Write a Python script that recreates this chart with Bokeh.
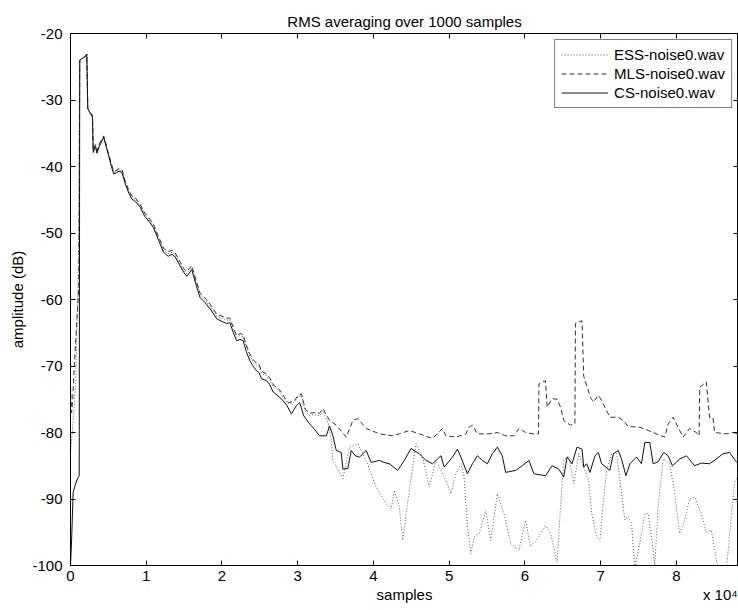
from bokeh.plotting import figure
from bokeh.models import Range1d, LinearAxis, FixedTicker, Legend, LegendItem
from bokeh.embed import file_html
from bokeh.resources import INLINE

title_text = "RMS averaging over 1000 samples"
x_axis_text = "samples"
x_scale_text = "x 10\u2074"
y_axis_text = "amplitude (dB)"
series_names = ["ESS-noise0.wav", "MLS-noise0.wav", "CS-noise0.wav"]
x_tick_values = [0, 10000, 20000, 30000, 40000, 50000, 60000, 70000, 80000]
x_tick_labels = ["0", "1", "2", "3", "4", "5", "6", "7", "8"]
y_tick_values = [-100, -90, -80, -70, -60, -50, -40, -30, -20]
y_tick_labels = ["-100", "-90", "-80", "-70", "-60", "-50", "-40", "-30", "-20"]

cs_points = [
    (0, -100), (150, -96), (350, -89), (600, -88), (900, -87), (1150, -86.5), (1220, -24),
    (1500, -23.8), (2000, -23.4), (2150, -23.1), (2280, -31.3), (2600, -32), (2900, -32.5),
    (3000, -37.9), (3300, -37), (3500, -38), (3800, -37), (4000, -36.5), (4380, -35.6),
    (4700, -37), (5000, -38.2), (5400, -40), (5700, -41.1), (6000, -41), (6400, -40.7),
    (6800, -40.9), (7200, -42.5), (7700, -44), (8100, -44.9), (8600, -45.3), (9200, -46.1),
    (9800, -47.5), (10400, -48.3), (10960, -49.2), (11600, -51), (12280, -52.9), (12900, -53.5),
    (13400, -53.2), (13820, -53.6), (14400, -54.8), (15000, -56), (15350, -56.5), (16010, -55.5),
    (16500, -57.5), (17100, -59.7), (17800, -60.5), (18500, -61.5), (19300, -62.9), (20000, -63.3),
    (20600, -63.6), (21050, -63.5), (21500, -65), (21930, -66.2), (22400, -66), (22800, -66.2),
    (23200, -67.8), (23680, -69.2), (24100, -70), (24560, -70.7), (24900, -71), (25220, -71.9),
    (25880, -72.2), (26300, -72.8), (26750, -73.9), (27400, -74.5), (28070, -75.2), (28600, -76),
    (29170, -77.2), (29800, -76), (30260, -75.5), (30800, -77.5), (31580, -78.7), (32200, -79.5),
    (32890, -80.5), (33780, -80.5), (34210, -79), (34650, -80.5), (35090, -82.7), (35750, -83),
    (35960, -85.5), (36620, -85.4), (37070, -82.7), (37600, -83.5), (38160, -83.7), (39040, -82.7),
    (39700, -84.5), (40790, -84.2), (41400, -84.5), (42110, -84.7), (43200, -85.7), (44080, -84.2),
    (44960, -82.4), (46050, -83.2), (46930, -84.2), (47800, -84.7), (48910, -83.5), (49340, -85.2),
    (50430, -83.7), (51090, -82.5), (51540, -83.7), (52410, -86.2), (53070, -84.7), (53720, -83.5),
    (54380, -84.2), (55040, -84.7), (55700, -83.2), (56360, -82.2), (57010, -83.5), (57460, -86),
    (58780, -85.7), (59650, -85), (60530, -84.2), (61180, -86.2), (62720, -86.5), (63590, -85),
    (64470, -85.5), (65130, -86.7), (65570, -83.7), (66220, -84.7), (66880, -82.2), (67540, -82.5),
    (67760, -85.2), (68160, -84.7), (68590, -86), (69250, -83.5), (69700, -83), (70130, -84.7),
    (71220, -85.7), (71670, -83.2), (72330, -82.7), (72760, -84), (73330, -86.5), (73860, -84.7),
    (74740, -83.7), (75390, -84.7), (75830, -81.5), (76490, -81.5), (76930, -84.7), (77590, -84.4),
    (78330, -83), (78910, -83.5), (79470, -85), (80430, -84), (81320, -83.5), (82410, -85),
    (83290, -84.6), (84380, -84.7), (85260, -84), (86140, -83.2), (87010, -83), (87890, -84.4),
    (88200, -84.5),
]

mls_points = [
    (0, -73), (150, -77), (300, -75), (500, -70), (700, -66), (900, -62), (1100, -58), (1220, -24),
    (1500, -23.8), (2000, -23.4), (2150, -23.1), (2280, -31.3), (2600, -31.8), (2900, -32.3),
    (3000, -37.5), (3300, -36.7), (3500, -37.6), (3800, -36.6), (4000, -36.2), (4380, -35.4),
    (4700, -36.6), (5000, -38), (5400, -39.6), (5700, -40.7), (6000, -40.6), (6400, -40.3),
    (6800, -40.5), (7200, -42.1), (7700, -43.6), (8100, -44.4), (8600, -44.8), (9200, -45.7),
    (9800, -47), (10400, -47.8), (10960, -48.7), (11600, -50.5), (12280, -52.3), (12900, -52.8),
    (13400, -52.6), (13820, -53), (14400, -54.2), (15000, -55.4), (15350, -55.8), (16010, -54.9),
    (16500, -56.8), (17100, -59), (17800, -59.8), (18500, -60.8), (19300, -62.2), (20000, -62.5),
    (20600, -62.8), (21050, -62.8), (21500, -64.2), (21930, -65.4), (22400, -65.1), (22800, -65.3),
    (23200, -66.8), (23680, -68.2), (24100, -69), (24560, -69.6), (24900, -69.8), (25220, -70.8),
    (25880, -71.2), (26300, -71.8), (26750, -72.8), (27630, -73.6), (28300, -74.8), (28800, -75.5),
    (29500, -75.3), (30000, -74.5), (30490, -74.2), (31000, -76.5), (31580, -77.1), (32200, -77),
    (32890, -77.1), (33330, -76.4), (34210, -78.2), (35090, -78.9), (36410, -80.7), (37280, -78.2),
    (37930, -77.9), (39040, -79.4), (40790, -80.2), (42540, -80.5), (43420, -80.2), (44740, -79.7),
    (46050, -80.2), (47800, -80.9), (49120, -79.4), (49570, -80.5), (50880, -80.7), (52200, -80.2),
    (52630, -79.2), (53070, -78.9), (53720, -80.2), (55260, -80.2), (56360, -80), (57460, -80.5),
    (58550, -80.5), (59210, -79.4), (60090, -80), (60960, -80.2), (61800, -80.2), (61850, -72.7),
    (62720, -72.2), (62930, -76.2), (63590, -74.9), (64250, -75), (64700, -76.2), (65130, -78.2),
    (66010, -78.9), (66450, -78.7), (66600, -78.7), (66670, -63.6), (67540, -63.2), (67760, -71.5),
    (68640, -74.7), (69040, -75.4), (69700, -74.4), (70130, -75.2), (71220, -77.7), (72330, -77.7),
    (72990, -78.2), (73640, -79.1), (75170, -79.2), (76280, -79.7), (77370, -80.2), (78460, -80.7),
    (78910, -78.7), (79570, -77.7), (80220, -79.2), (80880, -80.7), (81750, -79.4), (82630, -80),
    (83000, -80.5), (83070, -73.2), (83950, -72.4), (84380, -77.7), (84830, -77.7), (85040, -80),
    (86580, -80.2), (87460, -80), (88200, -80.2),
]

ess_points = [
    (0, -83), (150, -81), (300, -79), (500, -76), (700, -72), (900, -62), (1100, -50), (1220, -24),
    (1500, -23.8), (2000, -23.4), (2150, -23.1), (2280, -31.3), (2600, -32.1), (2900, -32.6),
    (3000, -37.7), (3300, -36.9), (3500, -37.8), (3800, -36.8), (4000, -36.3), (4380, -35.5),
    (4700, -36.8), (5000, -38.1), (5400, -39.8), (5700, -40.9), (6000, -40.8), (6400, -40.5),
    (6800, -40.7), (7200, -42.3), (7700, -43.8), (8100, -44.6), (8600, -45), (9200, -45.9),
    (9800, -47.2), (10400, -48), (10960, -48.9), (11600, -50.7), (12280, -52.6), (12900, -53.1),
    (13400, -52.9), (13820, -53.3), (14400, -54.5), (15000, -55.7), (15350, -56.1), (16010, -55.2),
    (16500, -57.1), (17100, -59.3), (17800, -60.1), (18500, -61.1), (19300, -62.5), (20000, -62.8),
    (20600, -63.1), (21050, -63.1), (21500, -64.5), (21930, -65.7), (22400, -65.4), (22800, -65.6),
    (23200, -67.1), (23680, -68.5), (24100, -69.3), (24560, -69.9), (24900, -70.1), (25220, -71.1),
    (25880, -71.5), (26300, -72.1), (26750, -73), (27630, -73.9), (28300, -75), (28800, -75.7),
    (29500, -75.5), (30000, -74.7), (30490, -74.4), (31000, -76.8), (31580, -77.4), (32200, -77.3),
    (32890, -77.5), (33330, -76.8), (34000, -78.5), (34430, -81.2), (34650, -84.2), (35960, -86.9),
    (36840, -82.2), (37930, -81.7), (39040, -84.2), (40360, -88.2), (41670, -90.7), (42330, -91.5),
    (42760, -88.7), (43420, -91.2), (43860, -96.2), (44740, -88.7), (45620, -81.7), (46490, -83.7),
    (47370, -88.2), (48250, -84.2), (48680, -85.2), (49570, -87.2), (50220, -89.2), (50880, -86.2),
    (51540, -84.7), (51970, -86.7), (52410, -94.2), (52860, -98.2), (53290, -95.7), (53950, -95.2),
    (54830, -91.7), (55490, -96.2), (56360, -89.2), (57240, -92.2), (58120, -96.7), (59210, -97.7),
    (60090, -93.2), (60750, -97.2), (61840, -95.7), (62720, -94), (63380, -95.2), (64250, -99.5),
    (64700, -91.2), (65130, -84.2), (65790, -83.5), (66450, -87.7), (67110, -83.2), (67760, -85.2),
    (68420, -87.2), (68820, -92.2), (69470, -95.7), (69910, -96.2), (70360, -90.2), (70790, -85.7),
    (71450, -83.2), (72110, -83.2), (72760, -89.2), (73200, -93.2), (73640, -92.7), (74080, -93.7),
    (74510, -100.5), (75170, -96.7), (75830, -92.2), (76280, -92.2), (76930, -97.7), (77140, -100),
    (77590, -91.2), (78250, -84), (79120, -84.7), (79780, -89.2), (80430, -95.2), (81090, -93.2),
    (81750, -90), (82410, -89.7), (83290, -92.2), (83950, -95), (84610, -94.7), (85490, -100.5),
    (86580, -101), (87240, -92.7), (87670, -87.5), (88200, -86.5),
]

# positions (data units) for the two texts under the tick labels
x_text_positions = [44100, 85800]

FONT = "Liberation Sans"

p = figure(width=738, height=610, output_backend="svg", toolbar_location=None,
           x_range=Range1d(0, 88200), y_range=Range1d(-100, -20),
           title=title_text,
           min_border_left=70, min_border_right=0, min_border_top=33, min_border_bottom=45)

p.title.align = "center"
p.title.text_font = FONT
p.title.text_font_size = "15px"
p.title.text_font_style = "normal"
p.title.text_color = "black"
p.title.standoff = 7

p.background_fill_color = "white"
p.border_fill_color = "white"
p.outline_line_color = "black"
p.outline_line_width = 1
p.grid.visible = False

ess_x, ess_y = zip(*ess_points)
mls_x, mls_y = zip(*mls_points)
cs_x, cs_y = zip(*cs_points)

r_ess = p.line(list(ess_x), list(ess_y), line_color="#555555", line_dash="1 2", line_width=1)
r_mls = p.line(list(mls_x), list(mls_y), line_color="#333333", line_dash="5 3", line_width=1)
r_cs = p.line(list(cs_x), list(cs_y), line_color="#111111", line_width=1)


def style_axis(ax):
    ax.major_tick_in = 5
    ax.major_tick_out = 0
    ax.minor_tick_line_color = None
    ax.axis_line_color = "black"
    ax.major_tick_line_color = "black"
    ax.major_label_text_font = FONT
    ax.major_label_text_font_size = "15px"
    ax.major_label_text_color = "black"


def hide_labels(ax):
    ax.major_label_text_font_size = "0px"
    ax.major_label_text_color = None
    ax.major_label_text_alpha = 0
    ax.major_label_standoff = 0
    ax.axis_line_color = None


xax = p.xaxis[0]
xax.ticker = FixedTicker(ticks=x_tick_values)
xax.major_label_overrides = dict(zip(x_tick_values, x_tick_labels))
style_axis(xax)
xax.major_label_standoff = 5

# second row below the tick labels: axis name and the x 10^4 multiplier
x_names_ax = LinearAxis(ticker=FixedTicker(ticks=x_text_positions))
x_names_ax.major_label_overrides = dict(zip(x_text_positions, [x_axis_text, x_scale_text]))
style_axis(x_names_ax)
x_names_ax.major_tick_in = 0
x_names_ax.major_tick_line_color = None
x_names_ax.axis_line_color = None
x_names_ax.major_label_standoff = 2
p.add_layout(x_names_ax, "below")

yax = p.yaxis[0]
yax.ticker = FixedTicker(ticks=y_tick_values)
yax.major_label_overrides = dict(zip(y_tick_values, y_tick_labels))
style_axis(yax)
yax.major_label_standoff = 8
yax.axis_label = y_axis_text
yax.axis_label_text_font = FONT
yax.axis_label_text_font_size = "15px"
yax.axis_label_text_font_style = "normal"
yax.axis_label_text_color = "black"
yax.axis_label_standoff = 3

top_ax = LinearAxis(ticker=FixedTicker(ticks=x_tick_values))
style_axis(top_ax)
hide_labels(top_ax)
p.add_layout(top_ax, "above")
right_ax = LinearAxis(ticker=FixedTicker(ticks=y_tick_values))
style_axis(right_ax)
hide_labels(right_ax)
p.add_layout(right_ax, "right")

legend = Legend(items=[LegendItem(label=series_names[0], renderers=[r_ess]),
                       LegendItem(label=series_names[1], renderers=[r_mls]),
                       LegendItem(label=series_names[2], renderers=[r_cs])],
                location="top_right")
legend.border_line_color = "black"
legend.border_line_width = 1
legend.background_fill_color = "white"
legend.background_fill_alpha = 1
legend.label_text_font = FONT
legend.label_text_font_size = "15px"
legend.label_text_color = "black"
legend.glyph_width = 47
legend.glyph_height = 17
legend.label_height = 17
legend.spacing = 2
legend.padding = 6
legend.margin = 6
legend.label_standoff = 6
p.add_layout(legend)

open("out.html", "w").write(file_html(p, INLINE))
